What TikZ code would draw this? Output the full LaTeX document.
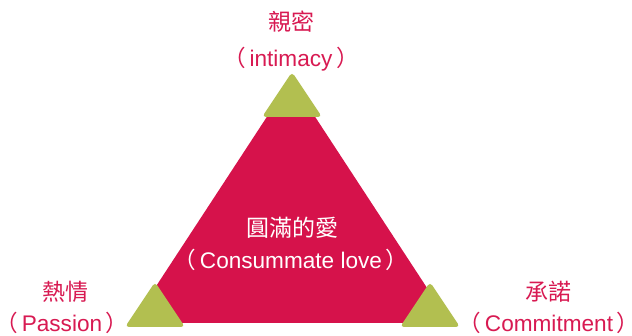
\documentclass[tikz,border=0pt]{standalone}
\usepackage{fontspec}
\setmainfont{Liberation Sans}
\newfontfamily\cjk{Noto Sans CJK TC}
\definecolor{lovered}{HTML}{D6124B}
\definecolor{textred}{HTML}{D81A52}
\definecolor{olive}{HTML}{B2BF50}
\begin{document}
\begin{tikzpicture}[x=1pt,y=-1pt,
  corner/.style={fill=olive, rounded corners=4pt},
  cjklabel/.style={text=textred, font=\cjk\fontsize{23}{26}\selectfont, inner sep=0pt},
  latlabel/.style={text=textred, font=\fontsize{22.6}{26}\selectfont, inner sep=0pt},
  cjkwhite/.style={cjklabel, text=white},
  latwhite/.style={latlabel, text=white}]
\useasboundingbox (0,0) rectangle (632,336);
\fill[white] (0,0) rectangle (632,336);
% big triangle
\fill[lovered] (291,80) -- (450,323) -- (132,323) -- cycle;
% corner triangles
\fill[corner] (292,72) -- (322,117) -- (262,117) -- cycle;
\fill[corner] (155,282) -- (185,327) -- (125,327) -- cycle;
\fill[corner] (430,282) -- (460,327) -- (400,327) -- cycle;
% labels
\node[cjklabel] (intzh) at (291,22) {親密};
\node[latlabel] (inten) at (291,59) {{\cjk （}\,intimacy\,{\cjk ）}};
\node[cjklabel] (paszh) at (65,292) {熱情};
\node[latlabel] (pasen) at (62,322.5) {{\cjk （}\,Passion\,{\cjk ）}};
\node[cjklabel] (comzh) at (548,292) {承諾};
\node[latlabel] (comen) at (549,322.5) {{\cjk （}\,Commitment\,{\cjk ）}};
\node[cjkwhite] (conzh) at (292,228) {圓滿的愛};
\node[latwhite] (conen) at (291,260) {{\cjk （}\,Consummate love\,{\cjk ）}};
\end{tikzpicture}
\end{document}
